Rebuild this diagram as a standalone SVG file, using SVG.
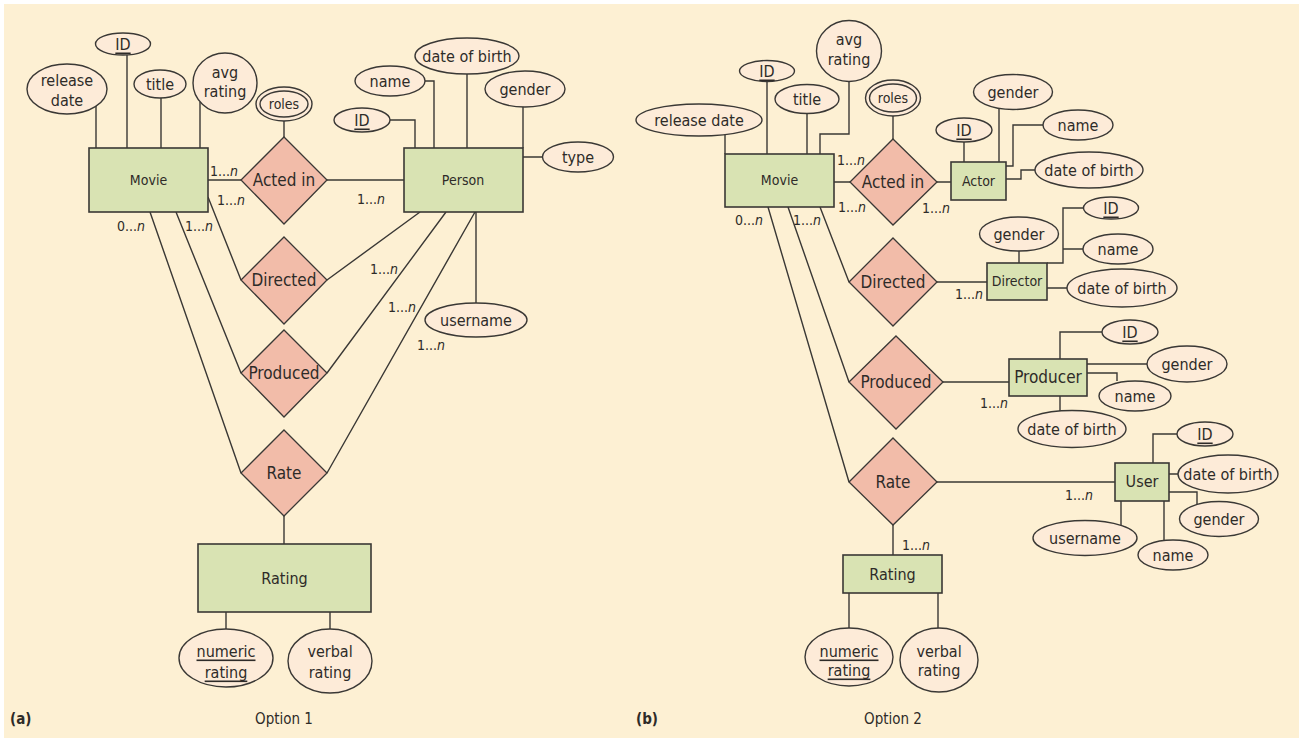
<svg xmlns="http://www.w3.org/2000/svg" width="1299" height="738" viewBox="0 0 1299 738">
<style>
text{font-family:"DejaVu Sans Condensed","DejaVu Sans","Liberation Sans",sans-serif;font-stretch:condensed;fill:#2e2b28;text-anchor:middle;dominant-baseline:central;font-size:16px}
.ent{fill:#d9e3b3;stroke:#3a3835;stroke-width:1.6}
.rel{fill:#f2bca9;stroke:#3a3835;stroke-width:1.3}
.att{fill:#fdebd8;stroke:#3a3835;stroke-width:1.4}
.con path{fill:none;stroke:#3a3835;stroke-width:1.4}
.card{font-size:14px;text-anchor:start;dominant-baseline:auto}
.u{text-decoration:underline}
.sm{font-size:14px}
.dm{font-size:17px}
.cap{font-size:15px;dominant-baseline:auto}
.lab{font-size:15px;dominant-baseline:auto;text-anchor:start;font-weight:bold}
</style>
<rect x="4" y="4" width="1295" height="734" fill="#fdf0d3"/>

<g id="connectors" class="con">
<path d="M96,105V148M127,55V148M161,98V148M200,102V148M284,121V137M208,180H241M327,180H404M390,120H415V148M425,81H434V148M467,74V148M523,107V148M523,157H542M476,212V303M150,212L241,473M176,212L241,373M208,197L241,280M420,212L327,280M446,212L327,373M475,212L327,473M284,516V544M226,612V629M330,612V629"/>
<path d="M725,135V154M767,82V154M807,114V154M849,81V134H820V154M893,116V139M834,182H850M937,182H951M964,142V162M999,109V162M1043,125H1013V166H1006M1035,170H1021V179H1006M820,207L849,282M788,207L849,382M768,207L849,482M937,282H987M1019,251V263M1047,263H1063V208H1084M1063,249H1083M1047,288H1067M943,382H1009M1060,359V332H1102M1087,364H1147M1087,373H1117V381M1060,396V411M937,482H1115M1153,463V434H1177M1169,474H1178M1169,492H1197V504M1164,501V540M1121,501V525M893,525V555M849,593V628M938,593V629"/>
</g>

<g id="cardinalities">
<text class="card" x="210" y="176">1...<tspan font-style="italic">n</tspan></text>
<text class="card" x="217" y="205">1...<tspan font-style="italic">n</tspan></text>
<text class="card" x="357" y="204">1...<tspan font-style="italic">n</tspan></text>
<text class="card" x="117" y="231">0...<tspan font-style="italic">n</tspan></text>
<text class="card" x="185" y="231">1...<tspan font-style="italic">n</tspan></text>
<text class="card" x="370" y="274">1...<tspan font-style="italic">n</tspan></text>
<text class="card" x="388" y="312">1...<tspan font-style="italic">n</tspan></text>
<text class="card" x="417" y="350">1...<tspan font-style="italic">n</tspan></text>
<text class="card" x="837" y="165">1...<tspan font-style="italic">n</tspan></text>
<text class="card" x="838" y="212">1...<tspan font-style="italic">n</tspan></text>
<text class="card" x="922" y="213">1...<tspan font-style="italic">n</tspan></text>
<text class="card" x="735" y="225">0...<tspan font-style="italic">n</tspan></text>
<text class="card" x="793" y="225">1...<tspan font-style="italic">n</tspan></text>
<text class="card" x="955" y="299">1...<tspan font-style="italic">n</tspan></text>
<text class="card" x="980" y="408">1...<tspan font-style="italic">n</tspan></text>
<text class="card" x="1065" y="500">1...<tspan font-style="italic">n</tspan></text>
<text class="card" x="902" y="550">1...<tspan font-style="italic">n</tspan></text>
</g>

<!-- Option 1 -->
<g id="a-movie"><rect class="ent" x="89" y="148" width="119" height="64"/><text class="sm" x="148.5" y="180">Movie</text></g>
<g id="a-movie-id"><ellipse class="att" cx="123" cy="44" rx="27.5" ry="11"/><text class="u" x="123" y="44">ID</text></g>
<g id="a-movie-release"><ellipse class="att" cx="67" cy="89" rx="40" ry="25"/><text x="67" y="80">release</text><text x="67" y="100">date</text></g>
<g id="a-movie-title"><ellipse class="att" cx="160" cy="84" rx="26" ry="14"/><text x="160" y="84">title</text></g>
<g id="a-movie-avg"><ellipse class="att" cx="225" cy="83" rx="32" ry="30"/><text x="225" y="72">avg</text><text x="225" y="91">rating</text></g>
<g id="a-roles"><ellipse class="att" cx="284" cy="104" rx="28" ry="17"/><ellipse class="att" cx="284" cy="104" rx="24" ry="13"/><text class="sm" x="284" y="104">roles</text></g>
<g id="a-acted"><polygon class="rel" points="284,137 327,180 284,224 241,180"/><text class="dm" x="284" y="180">Acted in</text></g>
<g id="a-person"><rect class="ent" x="404" y="148" width="119" height="64"/><text class="sm" x="463" y="180">Person</text></g>
<g id="a-person-id"><ellipse class="att" cx="362" cy="120" rx="28" ry="12"/><text class="u" x="362" y="120">ID</text></g>
<g id="a-person-name"><ellipse class="att" cx="390" cy="81" rx="35" ry="15"/><text x="390" y="81">name</text></g>
<g id="a-person-dob"><ellipse class="att" cx="467" cy="56" rx="52" ry="18"/><text x="467" y="56">date of birth</text></g>
<g id="a-person-gender"><ellipse class="att" cx="525" cy="89" rx="40" ry="18"/><text x="525" y="89">gender</text></g>
<g id="a-person-type"><ellipse class="att" cx="578" cy="157" rx="35.5" ry="15"/><text x="578" y="157">type</text></g>
<g id="a-person-username"><ellipse class="att" cx="476" cy="320" rx="51" ry="17"/><text x="476" y="320">username</text></g>
<g id="a-directed"><polygon class="rel" points="284,237 327,280 284,324 241,280"/><text class="dm" x="284" y="280">Directed</text></g>
<g id="a-produced"><polygon class="rel" points="284,330 327,373 284,417 241,373"/><text class="dm" x="284" y="373">Produced</text></g>
<g id="a-rate"><polygon class="rel" points="284,430 327,473 284,516 241,473"/><text class="dm" x="284" y="473">Rate</text></g>
<g id="a-rating"><rect class="ent" x="198" y="544" width="173" height="68"/><text x="284.5" y="578">Rating</text></g>
<g id="a-numeric"><ellipse class="att" cx="226" cy="658" rx="47" ry="29"/><text class="u" x="226" y="651">numeric</text><text class="u" x="226" y="672">rating</text></g>
<g id="a-verbal"><ellipse class="att" cx="330" cy="661" rx="42" ry="32"/><text x="330" y="651">verbal</text><text x="330" y="672">rating</text></g>
<text class="cap" x="284" y="724">Option 1</text>
<text class="lab" x="10" y="724">(a)</text>

<!-- Option 2 -->
<g id="b-movie"><rect class="ent" x="725" y="154" width="109" height="53"/><text class="sm" x="779.5" y="180">Movie</text></g>
<g id="b-movie-release"><ellipse class="att" cx="699" cy="120" rx="63" ry="16"/><text x="699" y="120">release date</text></g>
<g id="b-movie-id"><ellipse class="att" cx="767" cy="71" rx="27.5" ry="10.5"/><text class="u" x="767" y="71">ID</text></g>
<g id="b-movie-title"><ellipse class="att" cx="807" cy="99" rx="32" ry="14.5"/><text x="807" y="99">title</text></g>
<g id="b-movie-avg"><ellipse class="att" cx="849" cy="51" rx="32.5" ry="30.5"/><text x="849" y="39">avg</text><text x="849" y="59">rating</text></g>
<g id="b-roles"><ellipse class="att" cx="893" cy="98" rx="27.5" ry="18"/><ellipse class="att" cx="893" cy="98" rx="23.5" ry="14"/><text class="sm" x="893" y="98">roles</text></g>
<g id="b-acted"><polygon class="rel" points="893,139 937,182 893,225 850,182"/><text class="dm" x="893" y="182">Acted in</text></g>
<g id="b-actor"><rect class="ent" x="951" y="162" width="55" height="38"/><text class="sm" x="978.5" y="181">Actor</text></g>
<g id="b-actor-id"><ellipse class="att" cx="964" cy="130" rx="28" ry="12"/><text class="u" x="964" y="130">ID</text></g>
<g id="b-actor-gender"><ellipse class="att" cx="1013" cy="92" rx="39.5" ry="17.5"/><text x="1013" y="92">gender</text></g>
<g id="b-actor-name"><ellipse class="att" cx="1078" cy="125" rx="35" ry="15"/><text x="1078" y="125">name</text></g>
<g id="b-actor-dob"><ellipse class="att" cx="1089" cy="170" rx="54" ry="18"/><text x="1089" y="170">date of birth</text></g>
<g id="b-directed"><polygon class="rel" points="893,238 937,282 893,326 849,282"/><text class="dm" x="893" y="282">Directed</text></g>
<g id="b-director"><rect class="ent" x="987" y="263" width="60" height="37"/><text class="sm" x="1017" y="281">Director</text></g>
<g id="b-director-gender"><ellipse class="att" cx="1019" cy="234" rx="39.5" ry="17"/><text x="1019" y="234">gender</text></g>
<g id="b-director-id"><ellipse class="att" cx="1111" cy="208" rx="27.5" ry="11"/><text class="u" x="1111" y="208">ID</text></g>
<g id="b-director-name"><ellipse class="att" cx="1118" cy="249" rx="35" ry="15"/><text x="1118" y="249">name</text></g>
<g id="b-director-dob"><ellipse class="att" cx="1122" cy="288" rx="55" ry="19"/><text x="1122" y="288">date of birth</text></g>
<g id="b-produced"><polygon class="rel" points="896,336 943,382 896,429 849,382"/><text class="dm" x="896" y="382">Produced</text></g>
<g id="b-producer"><rect class="ent" x="1009" y="359" width="78" height="37"/><text class="dm" x="1048" y="377">Producer</text></g>
<g id="b-producer-id"><ellipse class="att" cx="1130" cy="332" rx="28" ry="12"/><text class="u" x="1130" y="332">ID</text></g>
<g id="b-producer-gender"><ellipse class="att" cx="1187" cy="364" rx="40" ry="18"/><text x="1187" y="364">gender</text></g>
<g id="b-producer-name"><ellipse class="att" cx="1135" cy="396" rx="36" ry="15"/><text x="1135" y="396">name</text></g>
<g id="b-producer-dob"><ellipse class="att" cx="1072" cy="429" rx="54" ry="18.5"/><text x="1072" y="429">date of birth</text></g>
<g id="b-rate"><polygon class="rel" points="893,438 937,482 893,525 849,482"/><text class="dm" x="893" y="482">Rate</text></g>
<g id="b-user"><rect class="ent" x="1115" y="463" width="54" height="38"/><text x="1142" y="481">User</text></g>
<g id="b-user-id"><ellipse class="att" cx="1205" cy="434" rx="28" ry="12"/><text class="u" x="1205" y="434">ID</text></g>
<g id="b-user-dob"><ellipse class="att" cx="1228" cy="474" rx="50" ry="19"/><text x="1228" y="474">date of birth</text></g>
<g id="b-user-gender"><ellipse class="att" cx="1219" cy="519" rx="39.5" ry="17.5"/><text x="1219" y="519">gender</text></g>
<g id="b-user-name"><ellipse class="att" cx="1173" cy="555" rx="35" ry="15"/><text x="1173" y="555">name</text></g>
<g id="b-user-username"><ellipse class="att" cx="1085" cy="538" rx="52" ry="17.5"/><text x="1085" y="538">username</text></g>
<g id="b-rating"><rect class="ent" x="843" y="555" width="99" height="38"/><text x="892.5" y="574">Rating</text></g>
<g id="b-numeric"><ellipse class="att" cx="849" cy="657" rx="44" ry="29"/><text class="u" x="849" y="651">numeric</text><text class="u" x="849" y="670">rating</text></g>
<g id="b-verbal"><ellipse class="att" cx="939" cy="660" rx="39" ry="32"/><text x="939" y="651">verbal</text><text x="939" y="670">rating</text></g>
<text class="cap" x="893" y="724">Option 2</text>
<text class="lab" x="636" y="724">(b)</text>
</svg>
